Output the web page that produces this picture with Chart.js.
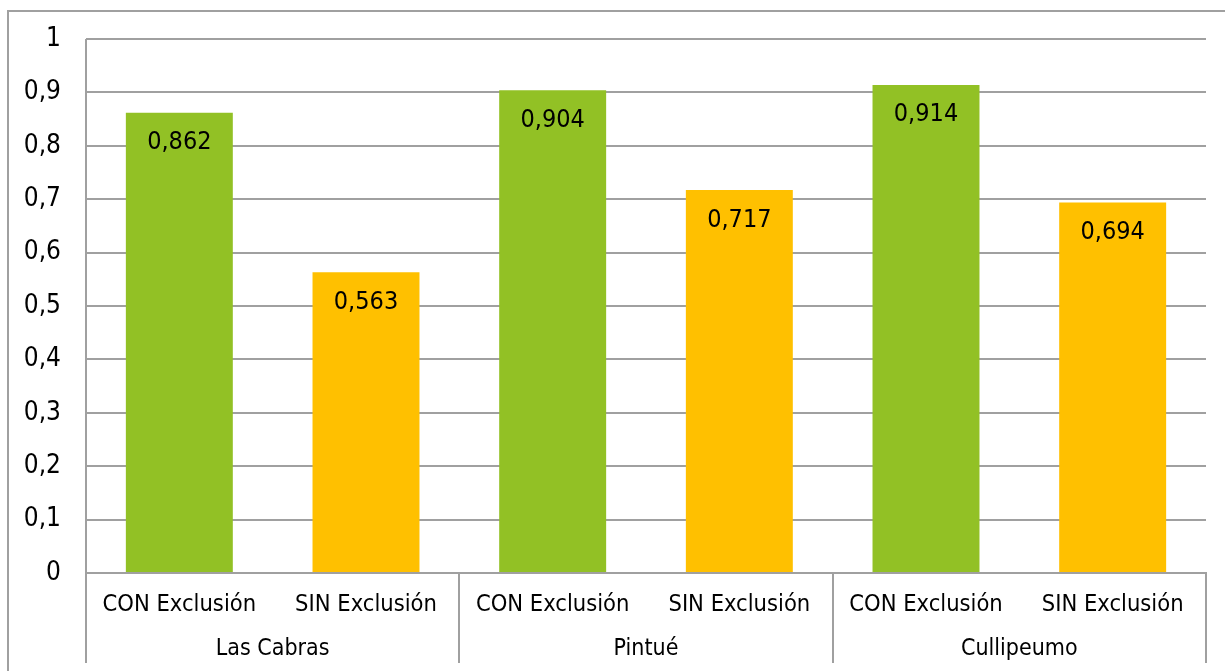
<!DOCTYPE html>
<html>
<head>
<meta charset="utf-8">
<script src="https://cdn.jsdelivr.net/npm/chart.js@4.4.1/dist/chart.umd.min.js"></script>
<style>
  html, body { margin: 0; padding: 0; background: #ffffff; }
  #wrap { width: 1225px; height: 671px; position: relative; }
</style>
</head>
<body>
<div id="wrap"><canvas id="c" width="1225" height="671"></canvas></div>
<script>
// Treatment labels (first level) and site names (second level)
const treatments = ['CON Exclusión', 'SIN Exclusión', 'CON Exclusión', 'SIN Exclusión', 'CON Exclusión', 'SIN Exclusión'];
const sites = ['Las Cabras', 'Pintué', 'Cullipeumo'];
const values = [0.862, 0.563, 0.904, 0.717, 0.914, 0.694];
const barColors = ['#92C125', '#FFC000', '#92C125', '#FFC000', '#92C125', '#FFC000'];
const yTicks = [0, 0.1, 0.2, 0.3, 0.4, 0.5, 0.6, 0.7, 0.8, 0.9, 1];

const FONT = '"DejaVu Sans Condensed", "DejaVu Sans", sans-serif';
const LINE = '#a0a0a0';

function fmt(v) {
  return String(v).replace('.', ',');
}

// Frame, group separators, site names and value labels
const decorations = {
  id: 'decorations',
  beforeDraw(chart) {
    const ctx = chart.ctx;
    ctx.save();
    ctx.strokeStyle = LINE;
    ctx.lineWidth = 2;
    ctx.strokeRect(8, 11, chart.width + 20, chart.height + 20);
    ctx.restore();
  },
  afterDraw(chart) {
    const ctx = chart.ctx;
    const x = chart.scales.x;
    const area = chart.chartArea;
    const per = treatments.length / sites.length;
    const half = (x.getPixelForValue(1) - x.getPixelForValue(0)) / 2;
    ctx.save();
    ctx.strokeStyle = LINE;
    ctx.lineWidth = 2;
    // vertical separators below the axis
    for (let g = 0; g <= sites.length; g++) {
      const px = Math.round(x.getPixelForValue(g * per) - half);
      ctx.beginPath();
      ctx.moveTo(px, g === 0 ? area.top : area.bottom);
      ctx.lineTo(px, 663);
      ctx.stroke();
    }
    // site names
    ctx.fillStyle = '#000';
    ctx.font = '23px ' + FONT;
    ctx.textAlign = 'center';
    ctx.textBaseline = 'middle';
    sites.forEach((s, g) => {
      const a = x.getPixelForValue(g * per) - half;
      const b = x.getPixelForValue((g + 1) * per) - half;
      ctx.fillText(s, (a + b) / 2, 649);
    });
    // value labels inside the bars
    ctx.font = '25px ' + FONT;
    const meta = chart.getDatasetMeta(0);
    meta.data.forEach((bar, i) => {
      ctx.fillText(fmt(values[i]), bar.x, bar.y + 30);
    });
    ctx.restore();
  }
};

new Chart(document.getElementById('c'), {
  type: 'bar',
  data: {
    labels: treatments,
    datasets: [{
      data: values,
      backgroundColor: barColors,
      borderWidth: 0,
      categoryPercentage: 1,
      barPercentage: 0.573
    }]
  },
  options: {
    responsive: false,
    animation: false,
    events: [],
    layout: { padding: { top: 39, right: 19, left: 0, bottom: 0 } },
    plugins: { legend: { display: false }, tooltip: { enabled: false } },
    scales: {
      y: {
        min: 0,
        max: 1,
        afterFit(scale) {
          scale.width = 86;
          scale.paddingTop = 0;
          scale.paddingBottom = 0;
        },
        afterBuildTicks(scale) { scale.ticks = yTicks.map(v => ({ value: v })); },
        border: { display: false },
        grid: { color: LINE, lineWidth: 2, drawTicks: false },
        ticks: {
          padding: 25,
          color: '#000',
          font: { family: FONT, size: 26 },
          callback: v => fmt(v)
        }
      },
      x: {
        afterFit(scale) { scale.height = 98; },
        border: { display: true, color: LINE, width: 2 },
        grid: { display: false, drawTicks: false },
        ticks: {
          padding: 18,
          color: '#000',
          maxRotation: 0,
          autoSkip: false,
          font: { family: FONT, size: 23.5 }
        }
      }
    }
  },
  plugins: [decorations]
});
</script>
</body>
</html>
